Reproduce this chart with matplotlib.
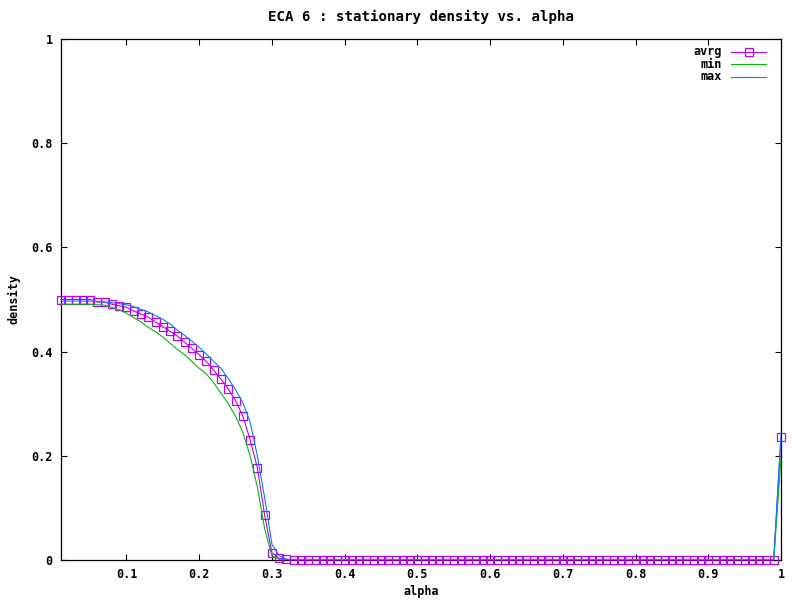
import numpy as np
import matplotlib
matplotlib.use("Agg")
import matplotlib.pyplot as plt
from matplotlib.lines import Line2D

# alpha = 0.01 .. 1.00 in steps of 0.01
alpha = np.round(np.arange(1, 101) * 0.01, 2)

# values for alpha 0.01 .. 0.32, zero afterwards, then the jump at 1.0
avrg_head = [0.500, 0.500, 0.500, 0.500, 0.500, 0.495, 0.495, 0.491, 0.488, 0.485,
             0.478, 0.472, 0.466, 0.457, 0.448, 0.439, 0.430, 0.418, 0.406, 0.394,
             0.381, 0.364, 0.347, 0.328, 0.306, 0.276, 0.231, 0.177, 0.086, 0.014,
             0.003, 0.001]
min_head = [0.491, 0.491, 0.491, 0.491, 0.491, 0.490, 0.489, 0.485, 0.480, 0.474,
            0.465, 0.457, 0.447, 0.438, 0.428, 0.416, 0.404, 0.394, 0.381, 0.368,
            0.357, 0.340, 0.320, 0.300, 0.276, 0.245, 0.200, 0.140, 0.060, 0.008,
            0.001, 0.000]
max_head = [0.497, 0.497, 0.497, 0.497, 0.497, 0.496, 0.495, 0.494, 0.492, 0.490,
            0.486, 0.481, 0.476, 0.469, 0.462, 0.453, 0.441, 0.431, 0.420, 0.408,
            0.395, 0.381, 0.368, 0.348, 0.327, 0.302, 0.265, 0.200, 0.120, 0.030,
            0.008, 0.002]
avrg_end = 0.236
min_end = 0.195
max_end = 0.240

n_zero = len(alpha) - len(avrg_head) - 1
avrg = np.array(avrg_head + [0.0] * n_zero + [avrg_end])
dmin = np.array(min_head + [0.0] * n_zero + [min_end])
dmax = np.array(max_head + [0.0] * n_zero + [max_end])

c_avrg = "#c000ff"
c_min = "#00c000"
c_max = "#0080ff"

plt.rcParams["font.family"] = ["DejaVu Sans Mono"]
plt.rcParams["font.weight"] = "bold"
plt.rcParams["axes.titleweight"] = "bold"
plt.rcParams["axes.labelweight"] = "bold"
plt.rcParams["font.size"] = 8.5

fig = plt.figure(figsize=(8, 6), dpi=100)
ax = fig.add_axes([61 / 800, 40 / 600, 720 / 800, 521 / 600])

ax.plot(alpha, avrg, color=c_avrg, lw=0.8, marker="s", ms=5.3,
        mfc="none", mec=c_avrg, mew=0.9, clip_on=False, zorder=3)
ax.plot(alpha, dmin, color=c_min, lw=0.8, zorder=3)
ax.plot(alpha, dmax, color=c_max, lw=0.8, zorder=3)

ax.set_xlim(0.01, 1)
ax.set_ylim(0, 1)
ax.set_xticks([0.1, 0.2, 0.3, 0.4, 0.5, 0.6, 0.7, 0.8, 0.9, 1.0])
ax.set_xticklabels(["0.1", "0.2", "0.3", "0.4", "0.5", "0.6", "0.7", "0.8", "0.9", "1"])
ax.set_yticks([0, 0.2, 0.4, 0.6, 0.8, 1.0])
ax.set_yticklabels(["0", "0.2", "0.4", "0.6", "0.8", "1"])
ax.tick_params(direction="in", length=4.3, width=0.8, top=True, right=True, pad=6)
for s in ax.spines.values():
    s.set_linewidth(0.9)

ax.set_title("ECA 6 : stationary density vs. alpha", pad=13)
ax.set_xlabel("alpha", labelpad=3)
ax.set_ylabel("density", labelpad=8)

# gnuplot-style key, right-aligned labels with sample to the right
rows = [("avrg", c_avrg, True), ("min", c_min, False), ("max", c_max, False)]
for i, (lab, col, mk) in enumerate(rows):
    yy = 1 - (51.5 + i * 12.5) / 600
    fig.text(722 / 800, yy, lab, ha="right", va="center")
    fig.add_artist(Line2D([731 / 800, 766 / 800], [yy, yy], color=col, lw=0.8,
                          transform=fig.transFigure))
    if mk:
        fig.add_artist(Line2D([748.5 / 800], [yy], color=col, marker="s", ms=5.3,
                              mfc="none", mec=col, mew=0.9, transform=fig.transFigure))

fig.savefig("out.png", dpi=100)
